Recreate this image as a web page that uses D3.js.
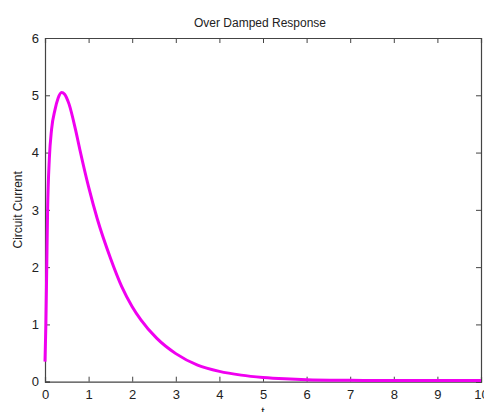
<!DOCTYPE html>
<html>
<head>
<meta charset="utf-8">
<script src="https://cdn.jsdelivr.net/npm/d3@7"></script>
<style>
  body { margin: 0; background: #fff; }
  text { font-family: "Liberation Sans", Arial, sans-serif; fill: #222; }
</style>
</head>
<body>
<script>
// values
var timeValues = [0, 0.02, 0.04, 0.06, 0.1, 0.15, 0.23, 0.3, 0.38, 0.45, 0.55, 0.7, 0.8, 1.0,
  1.2, 1.5, 1.76, 2.0, 2.2, 2.56, 3.0, 3.5, 4.0, 4.5, 5.0, 5.5, 6.0, 7.0, 8.0, 9.0, 10.0];
var currentValues = [0.35, 1.0, 2.0, 3.0, 3.9, 4.4, 4.75, 4.95, 5.05, 5.02, 4.85, 4.4, 4.05, 3.4,
  2.84, 2.16, 1.66, 1.31, 1.08, 0.76, 0.49, 0.29, 0.18, 0.115, 0.075, 0.05, 0.035, 0.025, 0.02, 0.02, 0.02];
var xTicks = [0, 1, 2, 3, 4, 5, 6, 7, 8, 9, 10];
var yTicks = [0, 1, 2, 3, 4, 5, 6];

var width = 484, height = 412;
var margin = { top: 38, right: 3, bottom: 30, left: 45 };
var plotW = width - margin.left - margin.right;
var plotH = height - margin.top - margin.bottom - 0.3;

var svg = d3.select('body')
  .append('svg')
  .attr('width', width)
  .attr('height', height);

var x = d3.scaleLinear().domain([0, 10]).range([0, plotW]);
var y = d3.scaleLinear().domain([0, 6]).range([plotH, 0]);

var g = svg.append('g')
  .attr('transform', 'translate(' + margin.left + ',' + margin.top + ')');

// bottom + left axes with labels, ticks pointing inward
var bottomAxis = g.append('g')
  .attr('transform', 'translate(0,' + plotH + ')')
  .call(d3.axisBottom(x).tickValues(xTicks).tickSize(-5).tickPadding(8).tickFormat(d3.format('d')));
var leftAxis = g.append('g')
  .call(d3.axisLeft(y).tickValues(yTicks).tickSize(-5).tickPadding(6).tickFormat(d3.format('d')));
// top + right ticks without labels
var topAxis = g.append('g')
  .call(d3.axisTop(x).tickValues(xTicks).tickSize(-5).tickFormat(''));
var rightAxis = g.append('g')
  .attr('transform', 'translate(' + plotW + ',0)')
  .call(d3.axisRight(y).tickValues(yTicks).tickSize(-5).tickFormat(''));

[bottomAxis, leftAxis, topAxis, rightAxis].forEach(function(a) {
  a.select('.domain').attr('stroke', '#444').attr('stroke-width', 1.2);
  a.selectAll('.tick line').attr('stroke', '#444');
  a.selectAll('.tick text').style('font-size', '13px').attr('fill', '#222');
});

// the current curve
var points = timeValues.map(function(t, i) { return [t, currentValues[i]]; });
var line = d3.line()
  .x(function(d) { return x(d[0]); })
  .y(function(d) { return y(d[1]); })
  .curve(d3.curveMonotoneX);

g.append('path')
  .datum(points)
  .attr('d', line)
  .attr('fill', 'none')
  .attr('stroke', '#f000f0')
  .attr('stroke-width', 3);

// title and axis labels
svg.append('text')
  .attr('x', margin.left + plotW / 2 - 3)
  .attr('y', 27)
  .attr('text-anchor', 'middle')
  .style('font-size', '12px')
  .text('Over Damped Response');

svg.append('text')
  .attr('transform', 'translate(22,' + (margin.top + plotH / 2) + ') rotate(-90)')
  .attr('text-anchor', 'middle')
  .style('font-size', '12px')
  .text('Circuit Current');

svg.append('text')
  .attr('x', margin.left + plotW / 2)
  .attr('y', 416)
  .attr('text-anchor', 'middle')
  .style('font-size', '12px')
  .text('t');
</script>
</body>
</html>
